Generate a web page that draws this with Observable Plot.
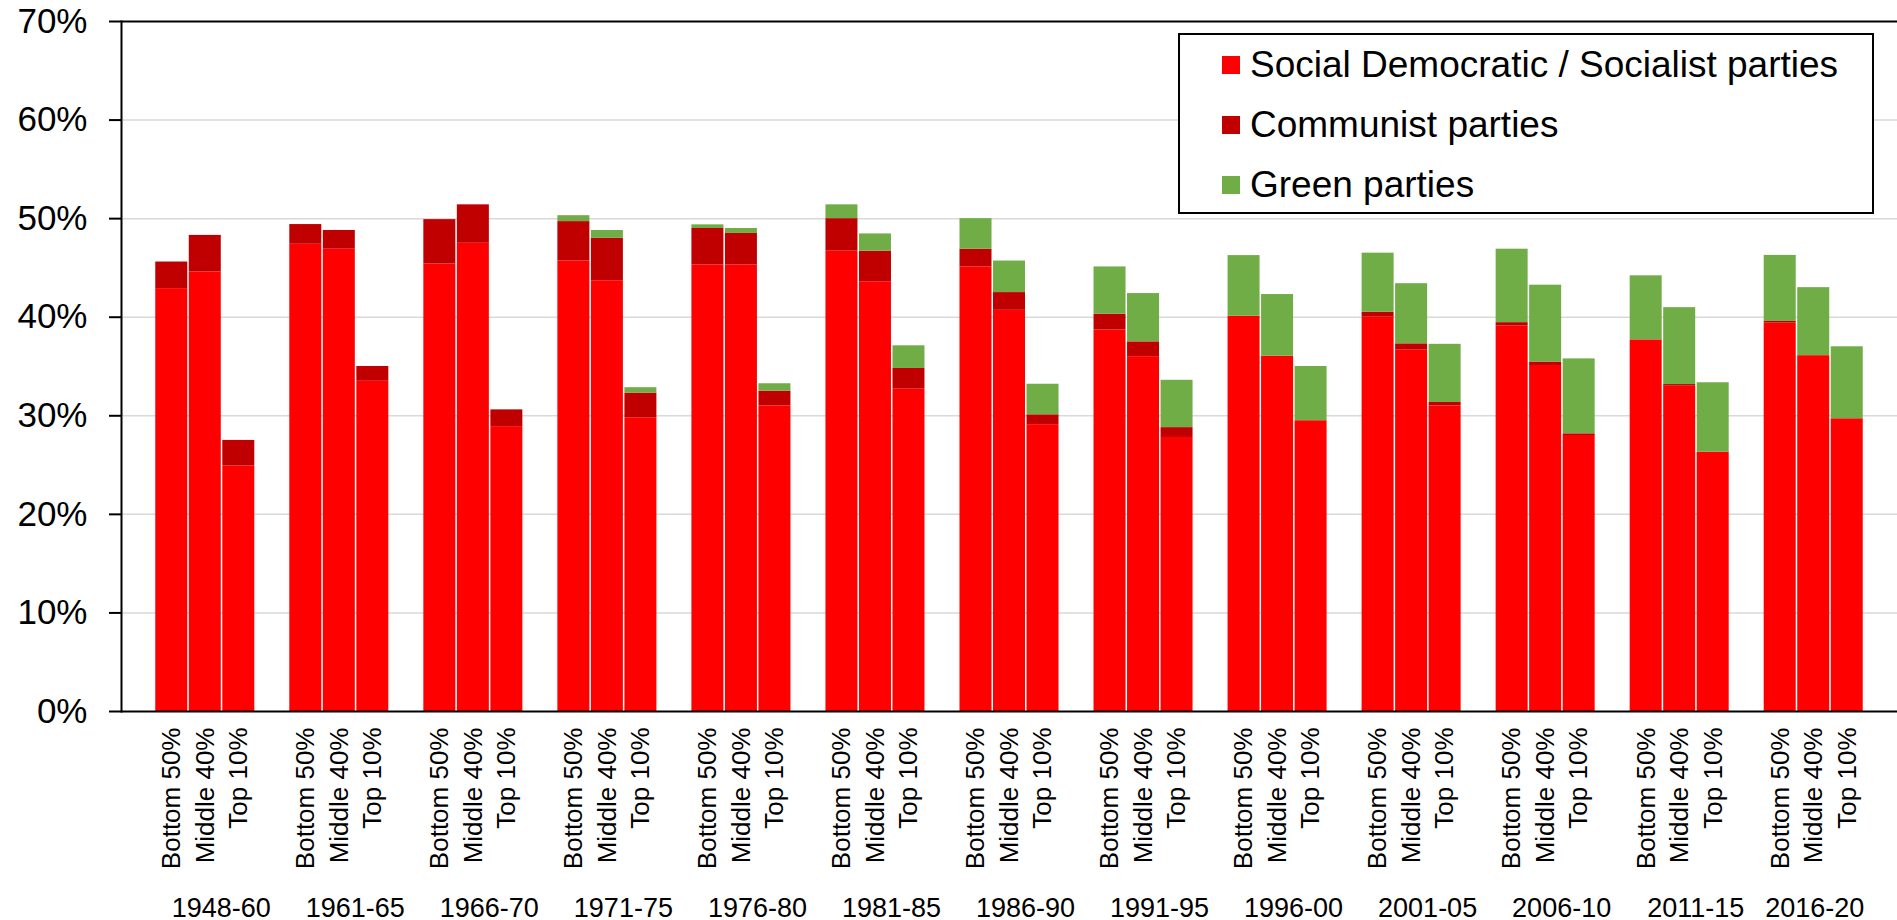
<!DOCTYPE html>
<html>
<head>
<meta charset="utf-8">
<script src="https://cdn.jsdelivr.net/npm/d3@7"></script>
<script src="https://cdn.jsdelivr.net/npm/@observablehq/plot@0.6"></script>
<style>
  html, body { margin: 0; padding: 0; background: #fff; }
  #wrap { position: relative; width: 1897px; height: 920px; font-family: "Liberation Sans", Arial, sans-serif; }
  #legend { position: absolute; left: 1178px; top: 33px; width: 696px; height: 181px; box-sizing: border-box;
            border: 2px solid #000; background: #fff; }
  .item { position: absolute; left: 42px; height: 40px; display: flex; align-items: center; font-size: 37px; color: #000; white-space: nowrap; }
  .sw { width: 18px; height: 18px; margin-right: 10px; flex: none; }
</style>
</head>
<body>
<div id="wrap"></div>
<script>
const periods = ["1948-60","1961-65","1966-70","1971-75","1976-80","1981-85","1986-90","1991-95","1996-00","2001-05","2006-10","2011-15","2016-20"];
const classes = ["Bottom 50%","Middle 40%","Top 10%"];
const parties = ["Social Democratic / Socialist parties","Communist parties","Green parties"];
const partyColors = ["#ff0000","#c00000","#70ad47"];

// [Bottom 50%, Middle 40%, Top 10%] per period
const socialist = [
  [42.9,44.6,24.9],[47.4,46.9,33.5],[45.4,47.5,28.9],[45.7,43.7,29.8],[45.3,45.3,31.0],
  [46.7,43.6,32.7],[45.1,40.7,29.1],[38.7,36.0,27.8],[40.1,36.05,29.5],[40.0,36.7,31.0],
  [39.1,35.1,28.0],[37.7,33.0,26.3],[39.4,36.1,29.7]
];
const communist = [
  [2.7,3.7,2.6],[2.0,1.9,1.5],[4.5,3.9,1.7],[4.0,4.3,2.5],[3.7,3.2,1.5],
  [3.3,3.1,2.1],[1.8,1.8,1.0],[1.6,1.5,1.0],[0,0,0],[0.5,0.6,0.35],
  [0.35,0.35,0.17],[0,0.17,0],[0.17,0,0]
];
const green = [
  [0,0,0],[0,0,0],[0,0,0],[0.6,0.8,0.55],[0.37,0.5,0.75],
  [1.4,1.75,2.3],[3.1,3.2,3.1],[4.8,4.9,4.8],[6.15,6.25,5.5],[6.0,6.1,5.9],
  [7.45,7.8,7.6],[6.5,7.8,7.05],[6.7,6.9,7.3]
];
const yTicks = [0,10,20,30,40,50,60,70];
const gridTicks = [10,20,30,40,50,60];

const series = [socialist, communist, green];
const rows = [];
const slots = ["gap0"];
const barKeys = [];
const midKeys = [];
periods.forEach((p, i) => {
  classes.forEach((c, j) => {
    const key = p + "|" + c;
    slots.push(key); barKeys.push(key);
    if (j === 1) midKeys.push(key);
    parties.forEach((party, k) => rows.push({key, period: p, cls: c, party, value: series[k][i][j]}));
  });
  slots.push("gap" + (i + 1));
});

const font = "'Liberation Sans', Arial, sans-serif";
const chart = Plot.plot({
  width: 1897,
  height: 920,
  marginLeft: 121,
  marginRight: 0,
  marginTop: 21,
  marginBottom: 209,
  style: {fontFamily: font, color: "#000", background: "#fff", overflow: "visible"},
  x: {type: "band", domain: slots, padding: 0, round: false, axis: null},
  y: {domain: [0, 70], axis: null},
  color: {domain: parties, range: partyColors},
  marks: [
    Plot.ruleY(gridTicks, {stroke: "#d9d9d9", strokeWidth: 1.5}),
    Plot.barY(rows, {x: "key", y: "value", fill: "party", z: "party", order: parties, insetLeft: 0.75, insetRight: 0.75}),
    Plot.ruleY([70], {stroke: "#000", strokeWidth: 2}),
    Plot.ruleY([0], {stroke: "#000", strokeWidth: 2}),
    Plot.frame({anchor: "left", stroke: "#000", strokeWidth: 2}),
    Plot.axisY({ticks: yTicks, tickFormat: d => d + "%", tickSize: 12, tickPadding: 22, fontSize: 35, strokeWidth: 2, label: null}),
    Plot.axisX({ticks: barKeys, tickFormat: d => d.split("|")[1], tickRotate: -90, tickSize: 0, tickPadding: 16, fontSize: 26, label: null}),
    Plot.axisX({ticks: midKeys.slice(0, 12), tickFormat: d => d.split("|")[0], tickSize: 0, tickPadding: 186, fontSize: 27, dx: 16, label: null}),
    Plot.axisX({ticks: midKeys.slice(12), tickFormat: d => d.split("|")[0], tickSize: 0, tickPadding: 186, fontSize: 27, dx: 1, label: null})
  ]
});

const wrap = document.getElementById("wrap");
wrap.appendChild(chart);

const legend = document.createElement("div");
legend.id = "legend";
parties.forEach((p, i) => {
  const it = document.createElement("div");
  it.className = "item";
  it.style.top = (10 + i * 60) + "px";
  const sw = document.createElement("span");
  sw.className = "sw";
  sw.style.background = partyColors[i];
  const tx = document.createElement("span");
  tx.textContent = p;
  it.appendChild(sw); it.appendChild(tx);
  legend.appendChild(it);
});
wrap.appendChild(legend);
</script>
</body>
</html>
